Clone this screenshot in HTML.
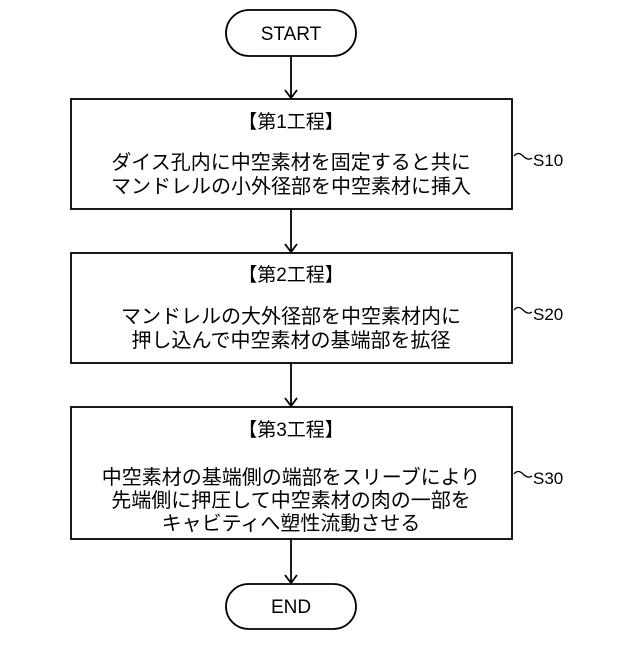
<!DOCTYPE html>
<html><head><meta charset="utf-8"><style>
body{margin:0;background:#fff}
</style></head><body>
<svg width="640" height="640" viewBox="0 0 640 640" xmlns="http://www.w3.org/2000/svg" font-family="'Liberation Sans','Noto Sans CJK JP',sans-serif" fill="#000">
<g fill="none" stroke="#000" stroke-width="1.8">
<rect x="226" y="10" width="130" height="46" rx="23"/>
<rect x="226" y="584" width="130" height="45" rx="22.5"/>
<rect x="71" y="99" width="441" height="110"/>
<rect x="71" y="253" width="441" height="110"/>
<rect x="71" y="407" width="441" height="132"/>
<line x1="291" y1="56" x2="291" y2="98"/>
<line x1="291" y1="209" x2="291" y2="252"/>
<line x1="291" y1="363" x2="291" y2="406"/>
<line x1="291" y1="539" x2="291" y2="583"/>
<polyline points="285,90 291,98 297,90"/>
<polyline points="285,244 291,252 297,244"/>
<polyline points="285,398 291,406 297,398"/>
<polyline points="285,575 291,583 297,575"/>
<path d="M514,156 q4,-5 9,0 t9,2" stroke-width="1.3"/>
<path d="M514,310 q4,-5 9,0 t9,2" stroke-width="1.3"/>
<path d="M514,474 q4,-5 9,0 t9,2" stroke-width="1.3"/>
</g>
<g text-anchor="middle" font-size="19">
<text x="291" y="40">START</text>
<text x="291" y="613">END</text>
<text x="291" y="128">【第1工程】</text>
<text x="291" y="169" font-size="20">ダイス孔内に中空素材を固定すると共に</text>
<text x="291" y="193" font-size="20">マンドレルの小外径部を中空素材に挿入</text>
<text x="291" y="281">【第2工程】</text>
<text x="291" y="323" font-size="20">マンドレルの大外径部を中空素材内に</text>
<text x="291" y="347" font-size="20">押し込んで中空素材の基端部を拡径</text>
<text x="291" y="436">【第3工程】</text>
<text x="291" y="484" font-size="20">中空素材の基端側の端部をスリーブにより</text>
<text x="291" y="507" font-size="20">先端側に押圧して中空素材の肉の一部を</text>
<text x="291" y="530" font-size="20">キャビティへ塑性流動させる</text>
</g>
<g font-size="17">
<text x="533" y="166">S10</text>
<text x="533" y="320">S20</text>
<text x="533" y="484">S30</text>
</g>
</svg>
</body></html>
